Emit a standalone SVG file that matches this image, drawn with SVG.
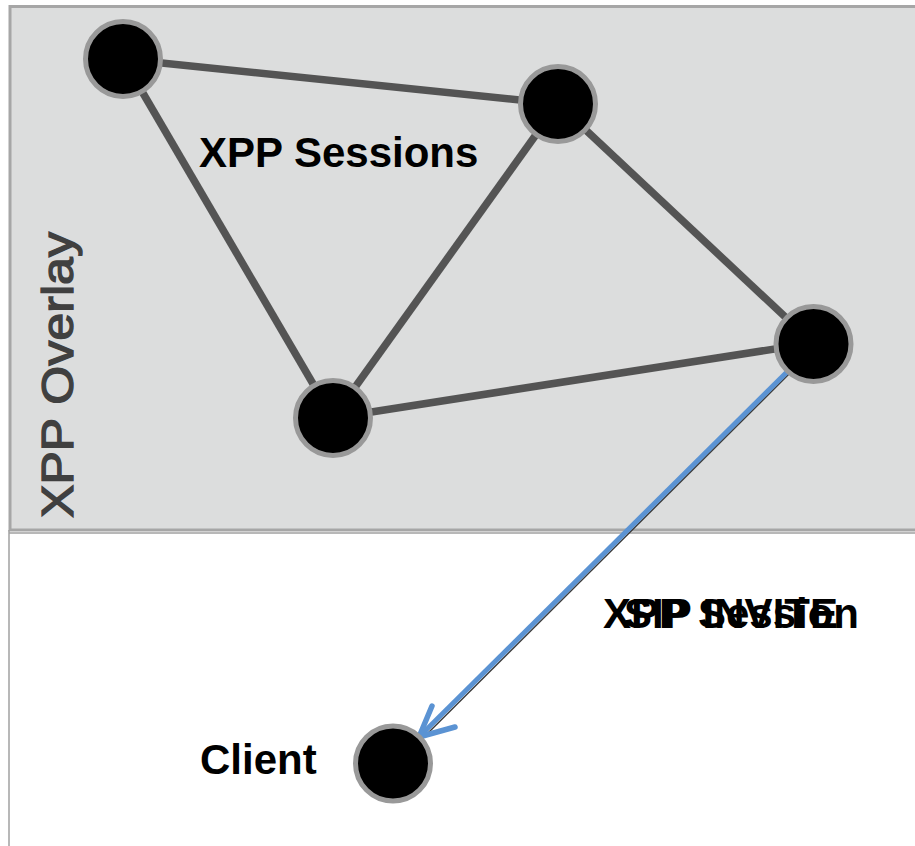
<svg xmlns="http://www.w3.org/2000/svg" width="915" height="846" viewBox="0 0 915 846">
<style>
.node{fill:#000;stroke:#999;stroke-width:5}
.edge{stroke:#545454;stroke-width:7.5;fill:none}
.lbl{font-family:"Liberation Sans",Arial,sans-serif;font-weight:bold;font-size:42px;fill:#000}
</style>
<rect width="915" height="846" fill="#fff"/>
<g id="overlay">
<rect x="10" y="6.5" width="910" height="523.5" fill="#dcdddd" stroke="#a6a6a6" stroke-width="3"/>
<line x1="9" y1="530" x2="9" y2="846" stroke="#a0a0a0" stroke-width="1.5"/>
<line x1="9" y1="533" x2="915" y2="533" stroke="#a0a0a0" stroke-width="1.5"/>
<text transform="translate(73,518) rotate(-90)" font-family="Liberation Sans,Arial,sans-serif" font-size="44" fill="#404040" stroke="#404040" stroke-width="1.3" textLength="286" lengthAdjust="spacingAndGlyphs">XPP Overlay</text>
</g>
<g id="connectors">
<line class="edge" x1="123" y1="59" x2="558" y2="104"/>
<line class="edge" x1="123" y1="59" x2="333" y2="418"/>
<line class="edge" x1="558" y1="104" x2="333" y2="418"/>
<line class="edge" x1="558" y1="104" x2="813" y2="343"/>
<line class="edge" x1="333" y1="418" x2="813" y2="343"/>
<line x1="792.5" y1="370.5" x2="422.5" y2="738.5" stroke="#3a3a3a" stroke-width="1.5"/>
<line x1="789" y1="370" x2="420" y2="736" stroke="#5b93d3" stroke-width="5"/>
<polyline points="432,706 419,737 455,727" fill="none" stroke="#5b93d3" stroke-width="5.5" stroke-linecap="round" stroke-linejoin="round"/>
</g>
<g id="n1"><circle class="node" cx="123" cy="59" r="37.5"/></g>
<g id="n2"><circle class="node" cx="558" cy="104" r="37.5"/></g>
<g id="n3"><circle class="node" cx="813.5" cy="344" r="37.5"/></g>
<g id="n4"><circle class="node" cx="333" cy="418" r="37.5"/></g>
<g id="client"><circle class="node" cx="393" cy="763.5" r="37.5"/><text class="lbl" x="200" y="774">Client</text></g>
<text class="lbl" x="199" y="167">XPP Sessions</text>
<text class="lbl" x="731" y="628" text-anchor="middle">XPP Session</text>
<text class="lbl" x="731" y="628" text-anchor="middle">SIP INVITE</text>
</svg>
